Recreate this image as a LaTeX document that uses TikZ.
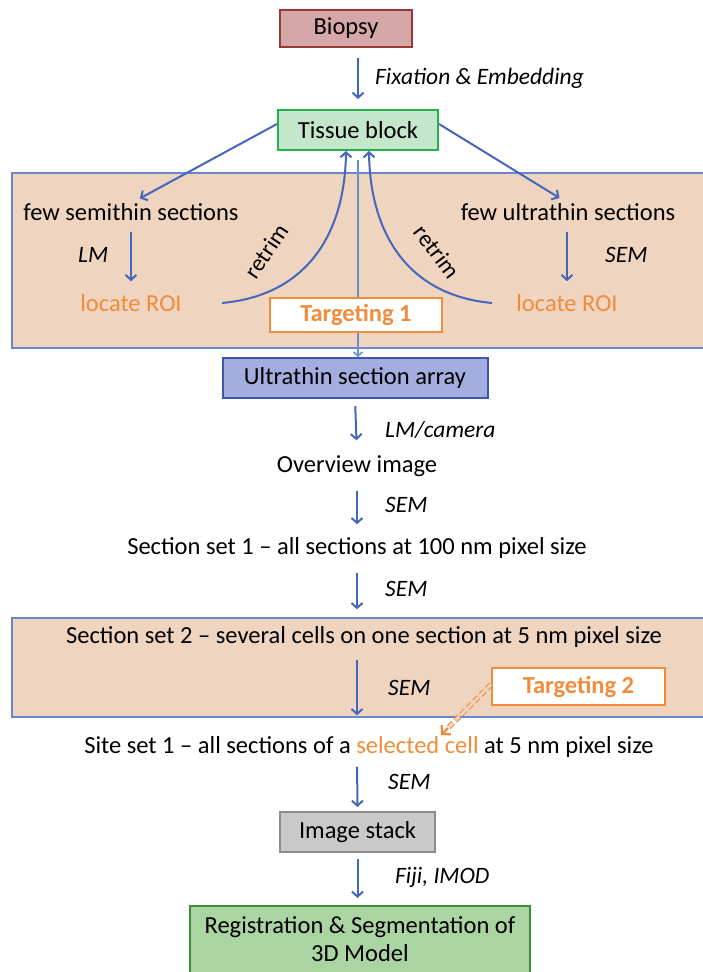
\documentclass[tikz,border=0pt]{standalone}
\usepackage{fontspec}
\setmainfont{Carlito}
\usetikzlibrary{arrows.meta,calc}
\definecolor{arrowblue}{HTML}{4466BB}
\definecolor{lineblue}{HTML}{6A8FCC}
\definecolor{panelfill}{HTML}{EFD4C0}
\definecolor{panelborder}{HTML}{6A86CC}
\definecolor{orng}{HTML}{F08C3C}
\definecolor{biofill}{HTML}{D6A7A9}
\definecolor{bioborder}{HTML}{963A38}
\definecolor{tisfill}{HTML}{C4E7CC}
\definecolor{tisborder}{HTML}{25B04A}
\definecolor{ultfill}{HTML}{A3ADE0}
\definecolor{ultborder}{HTML}{3D57AE}
\definecolor{stkfill}{HTML}{C9C9C9}
\definecolor{stkborder}{HTML}{8C8C8C}
\definecolor{regfill}{HTML}{AAD4A2}
\definecolor{regborder}{HTML}{3E8C39}
\tikzset{
  box/.style={draw, line width=2pt, inner sep=0pt, font=\fontsize{24.5}{28}\selectfont},
  flow/.style={draw=arrowblue, line width=2pt, -{Straight Barb[length=5pt,width=11pt,line width=2pt]}},
  lbl/.style={font=\fontsize{23.5}{27}\selectfont\itshape, anchor=west, inner sep=0pt},
  txt/.style={font=\fontsize{24.5}{28}\selectfont, inner sep=0pt},
  orngtxt/.style={txt, text=orng},
  target/.style={draw=orng, fill=white, line width=2pt, text=orng, font=\fontsize{24.5}{28}\selectfont\bfseries, inner sep=0pt},
  panel/.style={draw=panelborder, fill=panelfill, line width=1.3pt},
  rtxt/.style={font=\fontsize{23.5}{27}\selectfont, inner sep=0pt}
}
\begin{document}
\begin{tikzpicture}[x=1pt,y=-1pt]
\useasboundingbox (0,0) rectangle (703,972);
\clip (0,0) rectangle (703,972);
\fill[white] (0,0) rectangle (703,972);
% panels
\draw[panel] (12,173) rectangle (712,348);
\draw[panel] (12,618) rectangle (712,717);
% nodes
\node[box, draw=bioborder, fill=biofill, minimum width=132pt, minimum height=37pt] (bio) at (346,28.5) {Biopsy};
\node[box, draw=tisborder, fill=tisfill, minimum width=160pt, minimum height=40pt] (tis) at (358,130) {Tissue block};
\node[txt] (semi) at (131,212) {few semithin sections};
\node[txt] (ultra) at (568,212) {few ultrathin sections};
\node[orngtxt] (roiL) at (131,303) {locate ROI};
\node[orngtxt] (roiR) at (567,303) {locate ROI};
\coordinate (cstart) at (358,160);
\node[box, draw=ultborder, fill=ultfill, minimum width=265pt, minimum height=40pt] (arr) at (355,378) {Ultrathin section array};
\draw[line width=1.6pt, draw=lineblue, -{Straight Barb[length=4pt,width=9pt,line width=1.6pt]}] (cstart) -- (cstart |- arr.north);
\node[target, minimum width=172pt, minimum height=34pt] (t1) at (356,315) {Targeting 1};
\node[txt] (ov) at (357,466) {Overview image};
\node[txt] (s1) at (357,548) {Section set 1 – all sections at 100 nm pixel size};
\node[txt] (s2) at (364,637) {Section set 2 – several cells on one section at 5 nm pixel size};
\node[target, minimum width=173pt, minimum height=37pt] (t2) at (578.5,686.5) {Targeting 2};
\node[txt] (site) at (369,747) {Site set 1 – all sections of a \textcolor{orng}{selected cell} at 5 nm pixel size};
\node[box, draw=stkborder, fill=stkfill, minimum width=155pt, minimum height=40pt] (stk) at (357.5,832) {Image stack};
\node[box, draw=regborder, fill=regfill, minimum width=340pt, inner ysep=11pt, anchor=north, align=center] (reg) at (360,905) {Registration \& Segmentation of\\3D Model};
% connectors
\draw[flow, shorten <=10pt, shorten >=10pt] (bio.south -| tis.north) -- (tis.north);
\node[lbl] at (375,78) {Fixation \& Embedding};
\draw[flow, shorten >=10pt] ([yshift=6pt]tis.west) -- (semi.north);
\draw[flow, shorten >=10pt] ([yshift=6pt]tis.east) -- (ultra.north);
\draw[flow, shorten <=11pt, shorten >=13pt] (semi.south) -- (roiL.north);
\node[lbl] at (78,255) {LM};
\draw[flow, shorten <=11pt, shorten >=13pt] (ultra.south -| roiR.north) -- (roiR.north);
\node[lbl] at (605,255) {SEM};
\coordinate (cL) at (222,303);
\coordinate (cR) at (492,303);
\draw[flow] (cL) .. controls (310,295) and (345,230) .. ([xshift=-12pt]tis.south);
\draw[flow] (cR) .. controls (405,295) and (370,230) .. ([xshift=11pt]tis.south);
\node[rtxt, rotate=56] at (266,251) {retrim};
\node[rtxt, rotate=-53] at (437,252) {retrim};
\draw[flow, shorten <=7pt, shorten >=15pt] (arr.south) -- (ov.north);
\node[lbl] at (385,430) {LM/camera};
\draw[flow, shorten <=14pt, shorten >=13pt] (ov.south) -- (s1.north);
\node[lbl] at (385,505) {SEM};
\draw[flow, shorten <=14pt, shorten >=17pt] (s1.south) -- (s1.south |- s2.north);
\node[lbl] at (385,589) {SEM};
\draw[flow, shorten <=12pt, shorten >=21pt] (s1.south |- s2.south) -- (s1.south |- site.north);
\node[lbl] at (388,688) {SEM};
\draw[flow, shorten <=9pt, shorten >=4pt] (s1.south |- site.south) -- (stk.north);
\node[lbl] at (388,782) {SEM};
\draw[flow, shorten <=6pt, shorten >=7pt] (stk.south) -- (stk.south |- reg.north);
\node[lbl] at (395,877) {Fiji, IMOD};
% targeting 2 double dashed arrow
\coordinate (tipT2) at (441,735);
\coordinate (startT2) at ([yshift=2pt]t2.west);
\draw[orng, line width=1.1pt, double=panelfill, double distance=3pt, dash pattern=on 6pt off 3pt] (startT2) -- ($(tipT2)!9pt!(startT2)$);
\draw[orng, line width=2.2pt, -{Straight Barb[length=6pt,width=13pt,line width=2.2pt]}] ($(tipT2)!10pt!(startT2)$) -- (tipT2);
\end{tikzpicture}
\end{document}
